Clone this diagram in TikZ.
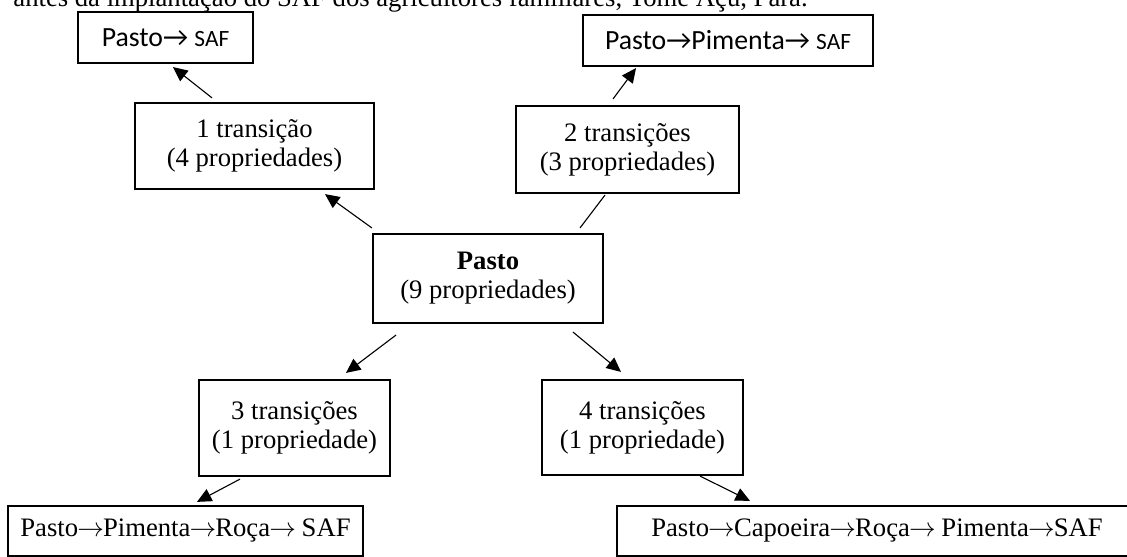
\documentclass[tikz,border=0pt]{standalone}
\usepackage{fontspec}
\setmainfont{Liberation Serif}
\newfontfamily\calibri{Carlito}
\usetikzlibrary{arrows.meta}

\newcommand\toarrow{\kern-0.4pt$\rightarrow$\kern-0.4pt}

\begin{document}
\begin{tikzpicture}[x=0.45pt, y=-0.45pt,
        box/.style={draw, line width=1pt, align=center, inner sep=0pt,
            font=\fontsize{12}{13}\selectfont},
        sansbox/.style={box, font=\calibri\fontsize{12.5}{13}\selectfont},
        arr/.style={line width=0.5pt, -{Triangle[length=6.5pt, width=6pt]}},
        link/.style={line width=0.5pt}]
        % Frame
        \useasboundingbox (0,0) rectangle (1127,557);
        \clip (0,0) rectangle (1127,557);

        % Caption, cut at the top
        \node[anchor=base west, inner sep=0pt, font=\fontsize{12}{13}\selectfont]
            (caption) at (13,7) {antes da implantação do SAF dos agricultores familiares, Tomé Açu, Pará.};

        % Start
        \node[box, minimum width=103.5pt, minimum height=40pt] (pasto) at (488,278.5)
            {\textbf{Pasto}\\(9 propriedades)};

        % Transitions
        \node[box, minimum width=107.5pt, minimum height=38.7pt] (trans1) at (254.5,146)
            {1 transição\\(4 propriedades)};
        \node[box, minimum width=100.3pt, minimum height=39.1pt] (trans2) at (627.5,149.5)
            {2 transições\\(3 propriedades)};
        \node[box, minimum width=86pt, minimum height=43.2pt] (trans3) at (294.5,428)
            {3 transições\\(1 propriedade)};
        \node[box, minimum width=90.4pt, minimum height=42.7pt] (trans4) at (642.5,427.5)
            {4 transições\\(1 propriedade)};

        % Paths
        \node[sansbox, minimum width=78.7pt, minimum height=22.9pt] (path1) at (165.5,37.5)
            {Pasto→ {\fontsize{10.5}{12}\selectfont SAF}};
        \node[sansbox, minimum width=130.5pt, minimum height=22.9pt] (path2) at (728,40.5)
            {Pasto→Pimenta→ {\fontsize{10.5}{12}\selectfont SAF}};
        \node[box, minimum width=159.7pt, minimum height=22.5pt] (path3) at (185.5,531)
            {Pasto\toarrow Pimenta\toarrow Roça\toarrow{} SAF};
        \node[box, minimum width=234pt, minimum height=22.5pt] (path4) at (877,531)
            {Pasto\toarrow Capoeira\toarrow Roça\toarrow{} Pimenta\toarrow SAF};

        % Connectors
        \draw[arr] ([shift={(0,-5)}]pasto.north west) -- ([shift={(70.5,4)}]trans1.south);
        \draw[link] ([shift={(92,-5)}]pasto.north) -- ([shift={(-22.5,1)}]trans2.south);
        \draw[arr] ([shift={(-92,11)}]pasto.south) -- ([shift={(51.5,-6)}]trans3.north);
        \draw[arr] ([shift={(85,8)}]pasto.south) -- ([shift={(-21.5,-7)}]trans4.north);

        \draw[arr] ([shift={(-42.5,-4)}]trans1.north) -- ([shift={(7.5,3)}]path1.south);
        \draw[arr] ([shift={(-14.5,-6)}]trans2.north) -- ([shift={(-92,1)}]path2.south);
        \draw[arr] ([shift={(-54.5,2)}]trans3.south) -- ([shift={(11.5,-3)}]path3.north);
        \draw[arr] ([shift={(57.5,0)}]trans4.south) -- ([shift={(-127,-4)}]path4.north);
    \end{tikzpicture}
\end{document}
